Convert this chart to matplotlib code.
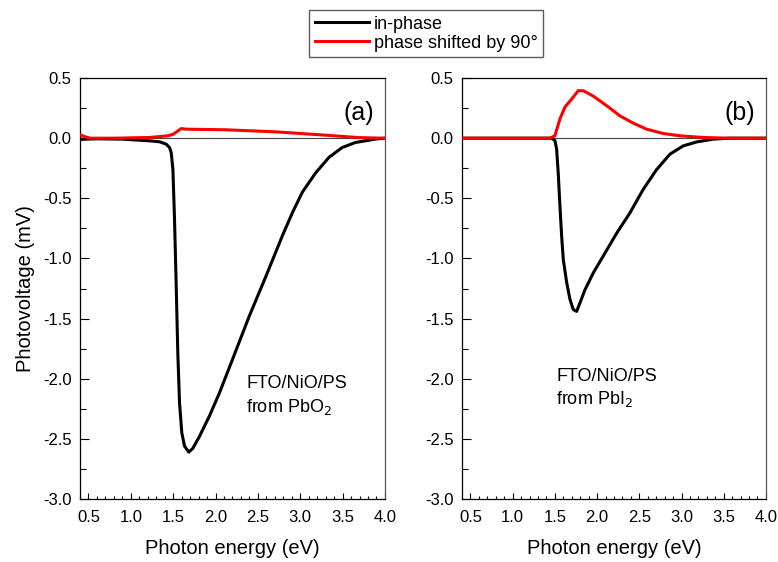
import numpy as np
from matplotlib import pyplot as plt
from matplotlib.ticker import MultipleLocator, FormatStrFormatter

plt.rcParams['font.family'] = ['Liberation Sans', 'DejaVu Sans']

# panel (a): FTO/NiO/PS from PbO2
a_black_x = [0.40, 0.60, 0.90, 1.223, 1.34, 1.419, 1.458, 1.477, 1.497, 1.516, 1.536, 1.555,
             1.575, 1.602, 1.634, 1.684, 1.731, 1.81, 1.928, 2.045, 2.20, 2.398, 2.594,
             2.79, 2.907, 3.024, 3.18, 3.338, 3.494, 3.65, 3.808, 3.90, 4.00]
a_black_y = [-0.01, -0.005, -0.008, -0.022, -0.03, -0.05, -0.078, -0.12, -0.26, -0.675, -1.23, -1.79,
             -2.20, -2.45, -2.56, -2.61, -2.58, -2.48, -2.31, -2.12, -1.84, -1.48, -1.15,
             -0.81, -0.62, -0.45, -0.29, -0.16, -0.078, -0.036, -0.017, -0.006, 0.0]
a_red_x = [0.40, 0.43, 0.47, 0.52, 0.80, 1.22, 1.44, 1.50, 1.595, 1.65, 2.12, 2.71, 3.30, 3.69, 4.00]
a_red_y = [0.03, 0.02, 0.01, 0.0, 0.0, 0.006, 0.02, 0.033, 0.08, 0.075, 0.07, 0.053, 0.025, 0.005, 0.0]

# panel (b): FTO/NiO/PS from PbI2
b_black_x = [0.40, 1.00, 1.462, 1.501, 1.521, 1.54, 1.56, 1.58, 1.60, 1.64, 1.679, 1.718,
             1.758, 1.797, 1.857, 1.955, 2.073, 2.232, 2.39, 2.547, 2.706, 2.863, 3.02,
             3.18, 3.376, 3.574, 4.00]
b_black_y = [0.0, 0.0, 0.0, -0.02, -0.09, -0.29, -0.56, -0.81, -1.01, -1.20, -1.34, -1.425,
             -1.44, -1.37, -1.26, -1.12, -0.98, -0.79, -0.62, -0.425, -0.26, -0.133, -0.064,
             -0.031, -0.008, 0.0, 0.0]
b_red_x = [0.40, 1.00, 1.442, 1.50, 1.56, 1.62, 1.699, 1.777, 1.837, 1.955, 2.114, 2.27,
           2.43, 2.587, 2.784, 2.98, 3.258, 3.574, 4.00]
b_red_y = [0.0, 0.0, 0.0, 0.02, 0.16, 0.26, 0.325, 0.395, 0.395, 0.35, 0.27, 0.186,
           0.125, 0.075, 0.039, 0.02, 0.006, 0.0, 0.0]

panels = [
    ('(a)', 'FTO/NiO/PS\nfrom PbO$_2$', (0.545, 0.245), a_black_x, a_black_y, a_red_x, a_red_y),
    ('(b)', 'FTO/NiO/PS\nfrom PbI$_2$', (0.31, 0.262), b_black_x, b_black_y, b_red_x, b_red_y),
]

fig = plt.figure(figsize=(7.78, 5.62), dpi=100)
ax_a = fig.add_axes([0.1028, 0.1121, 0.392, 0.749])
ax_b = fig.add_axes([0.5938, 0.1121, 0.3907, 0.749])

lines = []
for ax, (tag, note, note_xy, bx, by, rx, ry) in zip([ax_a, ax_b], panels):
    ax.axhline(0, color='#444444', lw=0.8, zorder=1)
    lb, = ax.plot(bx, by, color='black', lw=2.2, zorder=2, solid_joinstyle='round')
    lr, = ax.plot(rx, ry, color='#ff0000', lw=2.2, zorder=3, solid_joinstyle='round')
    lines = [lb, lr]
    ax.set_xlim(0.4, 4.0)
    ax.set_ylim(-3.0, 0.5)
    ax.xaxis.set_major_locator(MultipleLocator(0.5))
    ax.xaxis.set_minor_locator(MultipleLocator(0.1))
    ax.yaxis.set_major_locator(MultipleLocator(0.5))
    ax.yaxis.set_minor_locator(MultipleLocator(0.25))
    ax.xaxis.set_major_formatter(FormatStrFormatter('%.1f'))
    ax.yaxis.set_major_formatter(FormatStrFormatter('%.1f'))
    ax.tick_params(axis='x', which='major', direction='in', length=4.5, width=0.8,
                   labelsize=12, pad=8, top=False)
    ax.tick_params(axis='x', which='minor', direction='in', length=2.3, width=0.8, top=False)
    ax.tick_params(axis='y', which='major', direction='in', length=6.5, width=0.8,
                   labelsize=12, pad=6, right=False)
    ax.tick_params(axis='y', which='minor', direction='in', length=4.3, width=0.8, right=False)
    for s in ax.spines.values():
        s.set_linewidth(0.9)
    ax.spines['right'].set_color('#555555')
    ax.set_xlabel('Photon energy (eV)', fontsize=14.5, labelpad=10)
    ax.text(0.965, 0.945, tag, transform=ax.transAxes, ha='right', va='top', fontsize=18)
    ax.text(note_xy[0], note_xy[1], note, transform=ax.transAxes, ha='left', va='center',
            fontsize=13, linespacing=1.3)

ax_a.set_ylabel('Photovoltage (mV)', fontsize=14.5, labelpad=6)

fig.legend(lines, ['in-phase', 'phase shifted by 90°'], loc='upper center',
           bbox_to_anchor=(0.548, 0.982), fontsize=13, frameon=True, fancybox=False,
           edgecolor='#333333', handlelength=3.0, handletextpad=0.3, borderpad=0.3,
           labelspacing=0.12, borderaxespad=0.0)

fig.savefig('out.png', dpi=100)
